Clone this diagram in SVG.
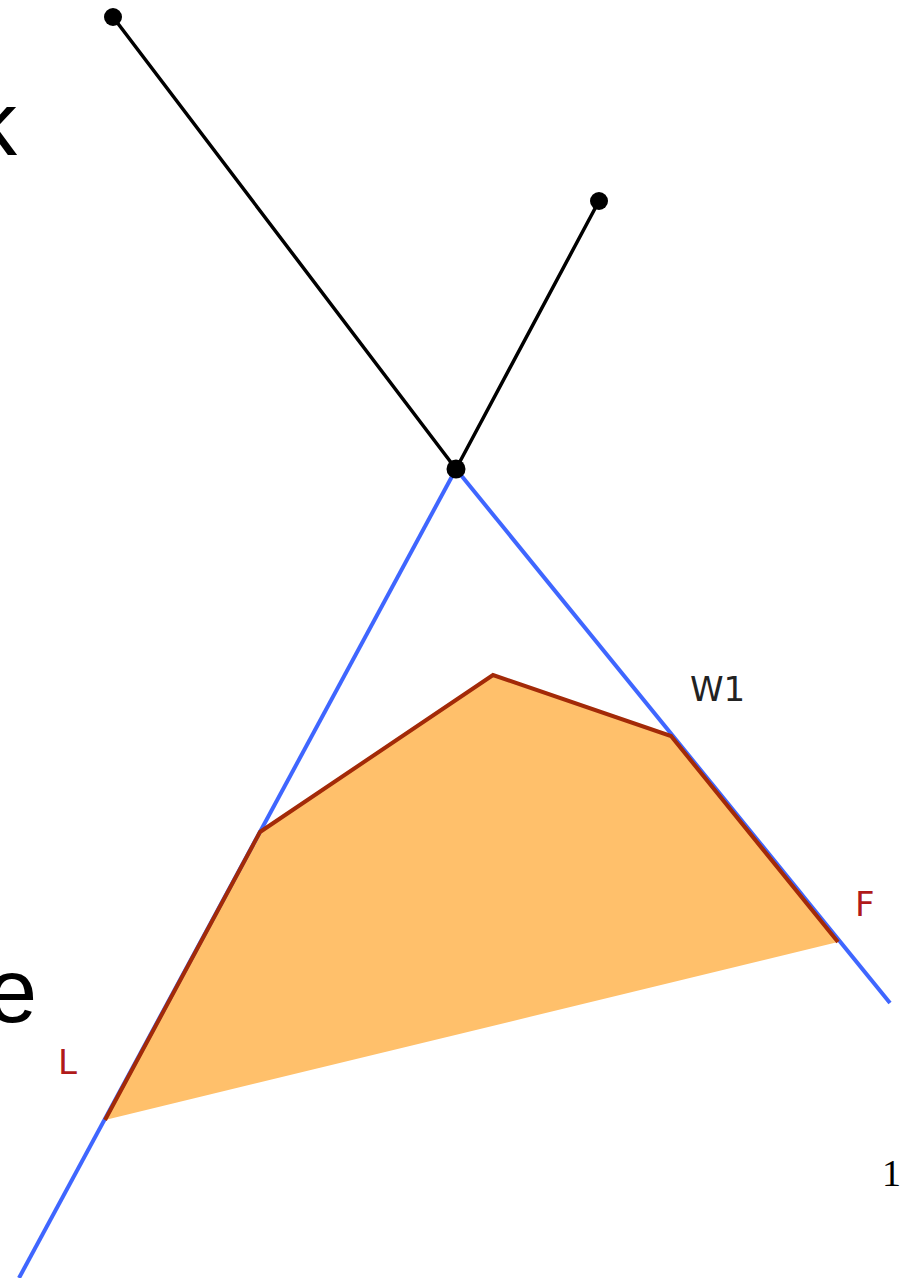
<svg xmlns="http://www.w3.org/2000/svg" width="902" height="1278" viewBox="0 0 902 1278">
<style>
.blk{stroke:#000;stroke-width:3.5;fill:none;stroke-linecap:round}
.blue{stroke:#3f66ff;stroke-width:4;fill:none}
.edge{stroke:#a32a08;stroke-width:4;fill:none;stroke-linejoin:miter}
.dot{fill:#000}
.lab{font-family:"DejaVu Sans",sans-serif;font-size:34px}
.red{fill:#b01a1a}
.big{font-family:"Liberation Sans",Arial,sans-serif;font-size:90px;fill:#000}
</style>
<rect width="902" height="1278" fill="#fff"/>
<g id="slide-text">
<text class="big" x="-28" y="155">k</text>
<text class="big" x="-13" y="1022">e</text>
<text x="882" y="1186" font-family="'Liberation Serif',serif" font-size="38" fill="#000">1</text>
</g>
<g id="region">
<polygon points="105,1120 260,832 493,675 671,736 838,942" fill="#ffc06b" stroke="none"/>
</g>
<g id="connectors">
<line class="blk" x1="113" y1="17" x2="456" y2="469"/>
<line class="blk" x1="599" y1="201" x2="456" y2="469"/>
<line class="blue" x1="456" y1="469" x2="19" y2="1278"/>
<line class="blue" x1="456" y1="469" x2="890" y2="1003"/>
<polyline class="edge" points="105,1120 260,832 493,675 671,736 838,942"/>
</g>
<g id="node-top-left"><circle class="dot" cx="113" cy="17" r="9"/></g>
<g id="node-top-right"><circle class="dot" cx="599" cy="201" r="9"/></g>
<g id="node-center"><circle class="dot" cx="456" cy="469" r="9.5"/></g>
<g id="labels">
<text class="lab" x="690" y="701" fill="#222">W1</text>
<text class="lab red" x="855" y="916">F</text>
<text class="lab red" x="58" y="1074">L</text>
</g>
</svg>
